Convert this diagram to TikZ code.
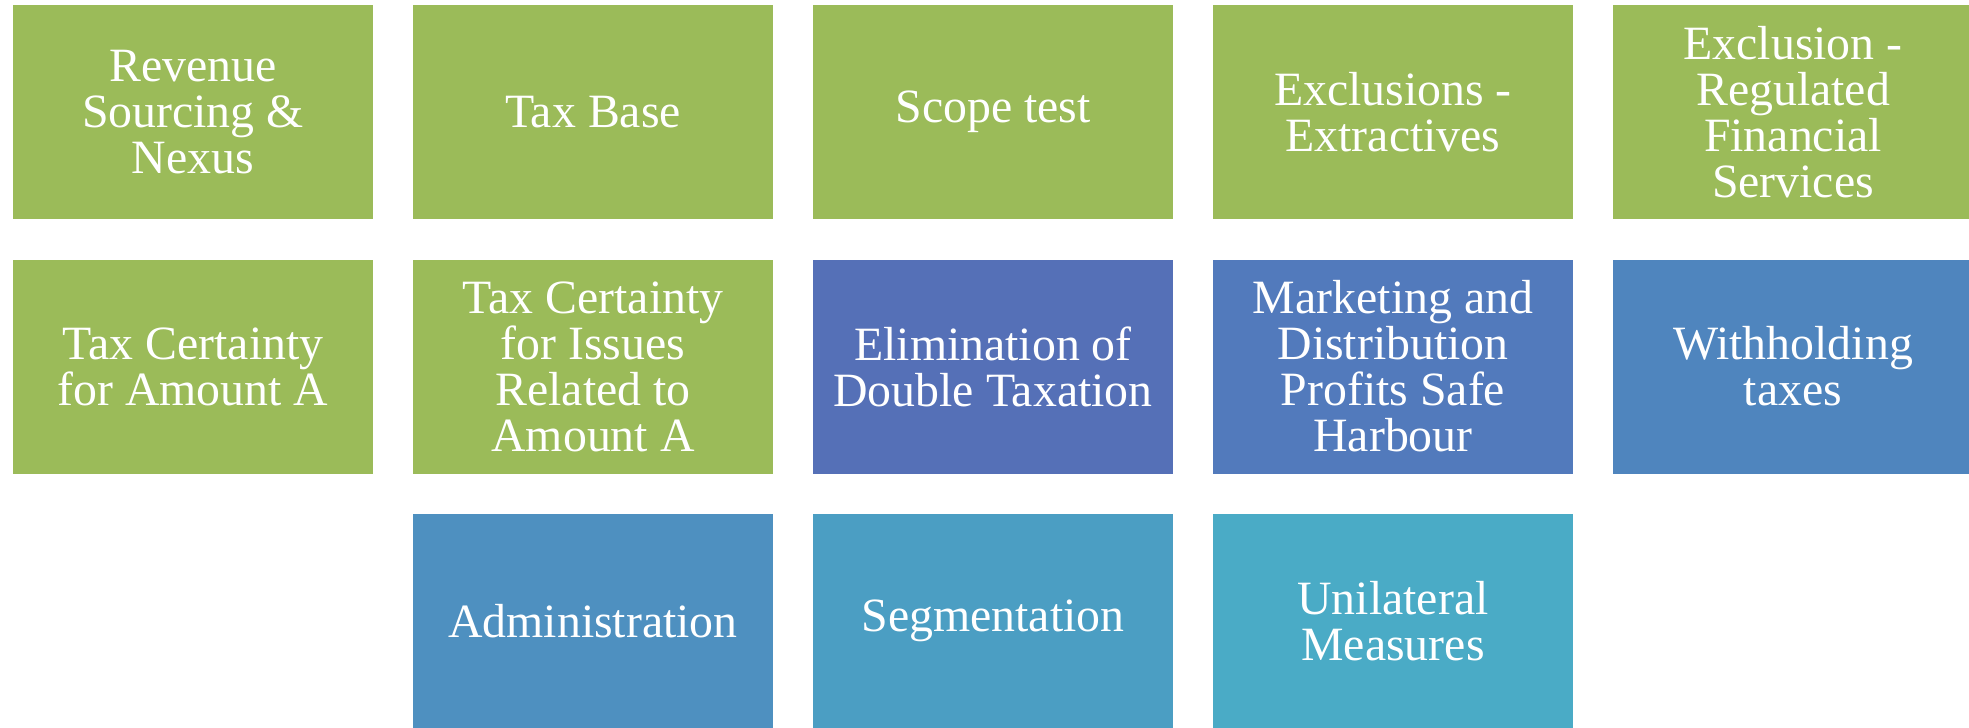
\documentclass[tikz,border=0pt]{standalone}
\usepackage{fontspec}
\setmainfont{Liberation Serif}
\usetikzlibrary{positioning}

\definecolor{leafgreen}{HTML}{9BBB59}
\definecolor{blueA}{HTML}{5570B7}
\definecolor{blueB}{HTML}{527ABC}
\definecolor{blueC}{HTML}{4F85BE}
\definecolor{blueD}{HTML}{4E90C0}
\definecolor{blueE}{HTML}{4B9EC3}
\definecolor{blueF}{HTML}{4AABC6}

\tikzset{
  topic/.style={rectangle,
    minimum width=3.6cm,
    minimum height=2.14cm,
    inner sep=0pt,
    outer sep=0pt,
    align=center,
    text=white,
    font=\fontsize{13.6}{13.1}\selectfont},
  green topic/.style={topic, fill=leafgreen}
}

\begin{document}
\begin{tikzpicture}

    \useasboundingbox (0,0) rectangle (19.69,-7.27);
    \clip (0,0) rectangle (19.69,-7.27);

    % top row
    \node[green topic] (rev) at (1.93,-1.12) {Revenue\\Sourcing \&\\Nexus};

    \node[green topic, right=4mm of rev] (base) {Tax Base};

    \node[green topic, right=4mm of base] (scope) {Scope test};

    \node[green topic, right=4mm of scope] (extr) {Exclusions -\\Extractives};

    \node[green topic, right=4mm of extr] (finserv) {Exclusion -\\Regulated\\Financial\\Services};

    % middle row
    \node[green topic, below=4.05mm of rev] (certA) {Tax Certainty\\for Amount A};

    \node[green topic, below=4.05mm of base] (certI) {Tax Certainty\\for Issues\\Related to\\Amount A};

    \node[topic, fill=blueA, below=4.05mm of scope] (elim) {Elimination of\\Double Taxation};

    \node[topic, fill=blueB, below=4.05mm of extr] (safeh) {Marketing and\\Distribution\\Profits Safe\\Harbour};

    \node[topic, fill=blueC, below=4.05mm of finserv] (wht) {Withholding\\taxes};

    % bottom row
    \node[topic, fill=blueD, below=4.05mm of certI] (admin) {Administration};

    \node[topic, fill=blueE, below=4.05mm of elim] (segm) {Segmentation};

    \node[topic, fill=blueF, below=4.05mm of safeh] (unil) {Unilateral\\Measures};

\end{tikzpicture}
\end{document}
